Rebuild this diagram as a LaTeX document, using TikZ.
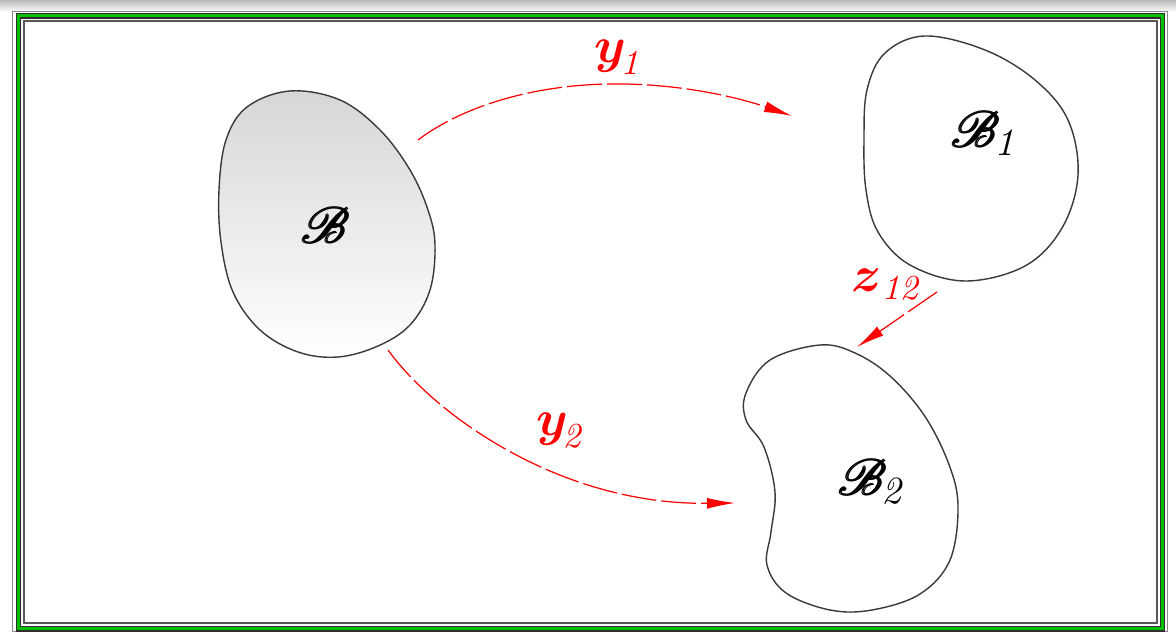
\documentclass[tikz,border=0pt]{standalone}
\usepackage{amsmath,amssymb,mathrsfs}
\usetikzlibrary{arrows.meta}
\definecolor{frgreen}{HTML}{00C000}
\definecolor{frdark}{HTML}{2E2E2E}
\definecolor{frgray}{HTML}{8A8A8A}
\definecolor{blobline}{HTML}{3A3A3A}
\definecolor{mapred}{HTML}{FF0000}

\begin{document}
\begin{tikzpicture}[
  x=0.1mm, y=-0.1mm,
  >={Latex[length=2.8mm, width=1.1mm]},
  blob/.style={draw=blobline, line width=0.4pt},
  mapping/.style={->, draw=mapred, line width=0.35pt, dash pattern=on 3.5mm off 0.5mm},
  maplabel/.style={text=mapred, font=\fontsize{14}{16}\selectfont, inner sep=0pt, anchor=base west},
  bodylabel/.style={text=black, font=\fontsize{15}{17}\selectfont, inner sep=0pt, anchor=base west},
]

\useasboundingbox (0,0) rectangle (1176,635);

% Background and frame
\fill[white] (0,0) rectangle (1176,635);
\shade[top color=gray!55, bottom color=white] (0,0) rectangle (1176,12);
\draw[frgray, line width=0.1mm] (12,12) rectangle (1167,632);
\draw[frdark, line width=0.55mm] (18.5,16) rectangle (1162.5,629);
\draw[frgreen, line width=0.3mm] (18.5,16) rectangle (1162.5,629);
\draw[frdark!80, line width=0.2mm] (24,21) rectangle (1157,623);

% =============================================
% Bodies
% =============================================
\shadedraw[blob, top color=gray!32, bottom color=white]
  plot[smooth cycle, tension=0.6] coordinates {
    (290,91) (340,100) (380,130) (410,170) (428,210) (435,245) (430,290)
    (410,325) (378,346) (338,357) (298,352) (260,330) (233,292) (221,242)
    (219,190) (226,140) (247,107)};

\draw[blob] plot[smooth cycle, tension=0.6] coordinates {
    (925,36) (885,53) (867,90) (864,140) (866,190) (878,232) (910,265)
    (965,281) (1025,266) (1062,228) (1078,175) (1068,120) (1035,80) (985,50)};

\draw[blob] plot[smooth cycle, tension=0.6] coordinates {
    (820,345) (770,360) (746,393) (746,420) (764,447) (775,492) (771,532)
    (767,565) (786,593) (830,610) (872,610) (920,594) (950,560) (958,505)
    (948,462) (924,415) (890,376) (855,353)};

\node[bodylabel] (body) at (302,244) {$\pmb{\mathscr{B}}$};
\node[bodylabel] (body1) at (952,148) {$\pmb{\mathscr{B}}_{\!\mathit{1}}$};
\node[bodylabel] (body2) at (839,496) {$\pmb{\mathscr{B}}_{\!\mathit{2}}$};

% =============================================
% Mappings
% =============================================
\coordinate (y1s) at (418,140);
\coordinate (y1e) at (792,116);
\coordinate (y2s) at (388,350);
\coordinate (y2e) at (735,503);
\coordinate (z12s) at (937,292);
\coordinate (z12e) at (857,347);

\draw[mapping] (y1s) .. controls (460,108) and (530,85) .. (610,84)
  .. controls (680,83) and (740,98) .. (y1e);
\draw[mapping] (y2s) .. controls (435,415) and (560,505) .. (y2e);
\draw[mapping] (z12s) -- (z12e);

\node[maplabel] (lbly1) at (594,63) {$\boldsymbol{y}_{\!\mathit{1}}$};
\node[maplabel] (lbly2) at (536,436) {$\boldsymbol{y}_{\!\mathit{2}}$};
\node[maplabel] (lblz12) at (851,292) {$\boldsymbol{z}_{\mathit{12}}$};

\end{tikzpicture}
\end{document}
